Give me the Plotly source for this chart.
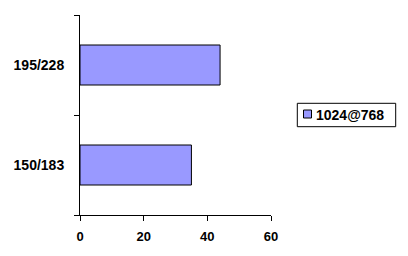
import plotly.graph_objects as go

categories = ["150/183", "195/228"]
values = [35, 44]
series_name = "1024@768"
x_ticks = [0, 20, 40, 60]
bar_color = "#9999FF"

FONT = "Liberation Sans, Arial, sans-serif"

fig = go.Figure()
fig.add_trace(go.Bar(
    y=categories, x=values, orientation="h", name=series_name,
    marker=dict(color=bar_color, line=dict(color="#000000", width=1)),
    showlegend=False,
))

# plot area: x 80..271 px, y 15..215 px
L, R, T, B = 80, 137, 15, 41
W, H = 408 - L - R, 256 - T - B
def px(x):
    return (x - L) / W
def py(y):
    return (256 - B - y) / H

# legend drawn as box + swatch + text
fig.add_shape(type="rect", xref="paper", yref="paper",
              x0=px(297.3), x1=px(395.7), y0=py(126.7), y1=py(103.3),
              line=dict(color="#000000", width=1), fillcolor="white", layer="above")
fig.add_shape(type="rect", xref="paper", yref="paper",
              x0=px(303.5), x1=px(311.5), y0=py(118), y1=py(110),
              line=dict(color="#000000", width=1), fillcolor=bar_color, layer="above")
fig.add_annotation(xref="paper", yref="paper", x=px(314), y=py(114.5),
                   xanchor="left", yanchor="middle", showarrow=False,
                   text=series_name,
                   font=dict(family=FONT, size=14, color="#000000", weight="bold"))

fig.update_layout(
    width=408, height=256,
    margin=dict(l=L, r=R, t=T, b=B, autoexpand=False),
    paper_bgcolor="white", plot_bgcolor="white",
    bargap=0.6,
    font=dict(family=FONT, size=13, color="#000000"),
    showlegend=False,
    xaxis=dict(
        range=[0, 60], tickvals=x_ticks, ticks="outside", ticklen=5,
        tickcolor="#000", showline=True, linecolor="#000", linewidth=1,
        showgrid=False, zeroline=False,
        tickfont=dict(size=13, family=FONT, weight="bold"),
        ticklabelstandoff=4, fixedrange=True,
    ),
    yaxis=dict(
        ticks="outside", ticklen=5, tickson="boundaries", tickcolor="#000",
        showline=True, linecolor="#000", linewidth=1, showgrid=False,
        tickfont=dict(size=14, family=FONT, weight="bold"),
        ticklabelstandoff=12, fixedrange=True,
    ),
)
fig.write_html("out.html")
